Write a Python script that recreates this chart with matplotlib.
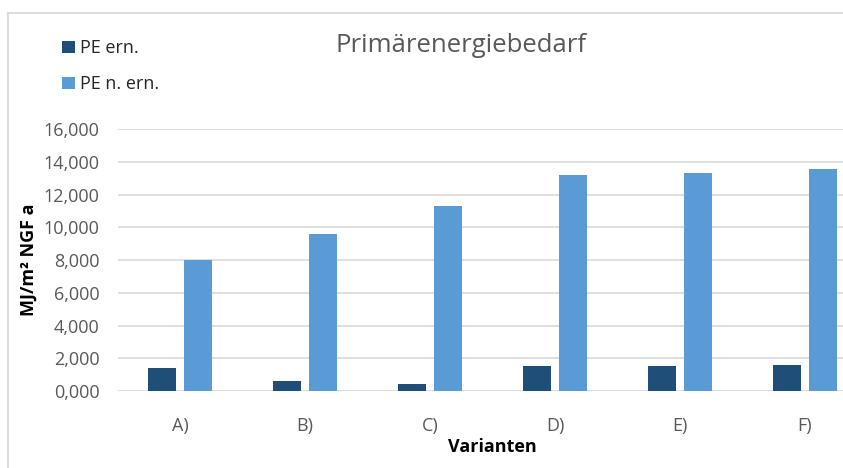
import matplotlib
matplotlib.use('Agg')
import matplotlib.pyplot as plt
from matplotlib.lines import Line2D
import numpy as np

plt.rcParams['font.family'] = ['Open Sans', 'DejaVu Sans']

# Data
varianten = ['A)', 'B)', 'C)', 'D)', 'E)', 'F)']
pe_ern = [1400, 600, 400, 1550, 1550, 1570]
pe_n_ern = [8000, 9600, 11300, 13200, 13300, 13600]
y_ticks = [0, 2000, 4000, 6000, 8000, 10000, 12000, 14000, 16000]

col_ern = '#1F4E79'
col_n_ern = '#5B9BD5'
grey_txt = '#595959'
grid_col = '#D9D9D9'

W, H = 843, 468
fig = plt.figure(figsize=(W / 100, H / 100), dpi=100)
# plot area runs past the right edge (chart is cropped in the reference)
ax = fig.add_axes([117.5 / W, 77 / H, 750 / W, 261.7 / H])

x = np.arange(len(varianten))
width = 0.224
gap = 0.062
ax.bar(x - (width + gap) / 2, pe_ern, width, color=col_ern, label='PE ern.', zorder=3)
ax.bar(x + (width + gap) / 2, pe_n_ern, width, color=col_n_ern, label='PE n. ern.', zorder=3)

ax.set_xlim(-0.5, len(varianten) - 0.5)
ax.set_ylim(0, 16000)
ax.set_yticks(y_ticks)
ax.set_yticklabels([f'{v / 1000:.3f}'.replace('.', ',') for v in y_ticks])
ax.set_xticks(x)
ax.set_xticklabels(varianten)
ax.tick_params(axis='both', length=0, labelsize=13, colors=grey_txt)
ax.tick_params(axis='y', pad=13)
ax.tick_params(axis='x', pad=19)

ax.grid(axis='y', color=grid_col, linewidth=1.2, zorder=0)
for s in ax.spines.values():
    s.set_visible(False)

ax.set_ylabel('MJ/m² NGF a', fontsize=13, fontweight='bold', color='black')
ax.yaxis.set_label_coords(-0.106, 0.5)
ax.set_xlabel('Varianten', fontsize=13, fontweight='bold', color='black')
ax.xaxis.set_label_coords(0.5, -0.214)
ax.xaxis.label.set_va('center')

fig.text(461 / W, 1 - 46 / H, 'Primärenergiebedarf', fontsize=18.5, color=grey_txt,
         ha='center', va='center')

fig.legend(loc='upper left', bbox_to_anchor=(46 / W, 1 - 23 / H), frameon=False,
           fontsize=13, handlelength=0.7, handleheight=0.7, handletextpad=0.3,
           labelspacing=1.0, labelcolor='#262626')

# chart border (only top and left visible)
fig.add_artist(Line2D([8.3 / W, 8.3 / W], [0, 1 - 13.3 / H], color=grid_col, linewidth=1.3))
fig.add_artist(Line2D([8.3 / W, 1], [1 - 13.3 / H, 1 - 13.3 / H], color=grid_col, linewidth=1.3))

fig.savefig('out.png', dpi=100)
